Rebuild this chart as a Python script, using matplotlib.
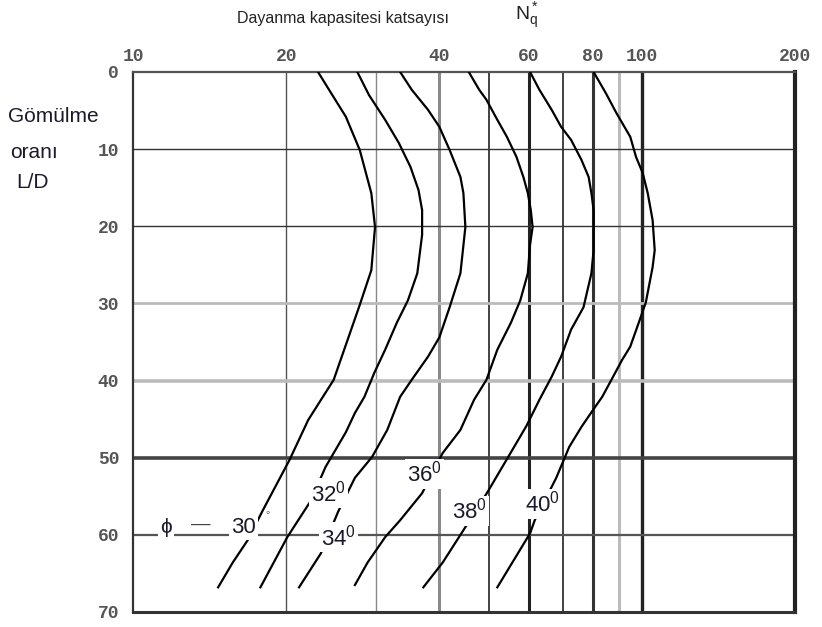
import numpy as np
import matplotlib
matplotlib.use("Agg")
import matplotlib.pyplot as plt

# --- dati (Nq* in funzione di L/D) ---
ld_30 = [0, 5.8, 10.1, 15.7, 20.1, 25.7, 30.2, 39.9, 45.1, 50.3, 56.8, 60.7, 63.6, 66.8]
nq_30 = [23.1, 26.2, 27.9, 29.4, 29.9, 29.4, 27.9, 24.8, 22.1, 20.3, 18.0, 16.8, 15.7, 14.7]

ld_32 = [0, 3.0, 6.2, 9.2, 12.3, 15.3, 17.9, 21.1, 26.1, 29.6, 32.5, 36.0, 39.0, 42.1,
         44.2, 46.7, 51.2, 55.7, 60.3, 66.8]
nq_32 = [27.6, 29.1, 31.3, 33.3, 35.1, 36.4, 37.0, 37.0, 36.2, 34.7, 33.0, 31.3, 29.8, 28.5,
         27.3, 26.2, 23.9, 22.3, 20.1, 17.8]

ld_34 = [0, 2.3, 4.9, 7.1, 10.1, 13.6, 15.7, 20.1, 26.1, 30.5, 34.4, 36.9, 39.9, 42.1,
         46.4, 49.9, 52.6, 57.0, 62.4, 66.8]
nq_34 = [33.5, 35.3, 38.0, 40.0, 41.9, 44.0, 44.6, 45.0, 44.0, 41.9, 40.0, 38.0, 35.3, 33.5,
         31.6, 29.5, 27.3, 25.3, 23.4, 21.2]

ld_36 = [0, 2.3, 3.6, 6.2, 8.4, 11.0, 13.6, 15.7, 17.9, 20.1, 22.4, 26.1, 29.6, 32.5,
         36.0, 39.9, 42.5, 46.4, 49.4, 54.6, 58.1, 60.3, 63.6, 66.5]
nq_36 = [45.7, 47.9, 49.5, 52.0, 54.3, 56.7, 58.5, 59.7, 60.5, 61.0, 60.3, 59.7, 57.7, 55.3,
         52.0, 49.5, 46.8, 44.0, 40.6, 37.0, 33.5, 31.3, 28.9, 27.3]

ld_38 = [0, 2.3, 4.9, 7.1, 8.8, 11.4, 13.6, 15.7, 17.9, 20.5, 23.1, 26.1, 30.5, 33.4,
         36.9, 39.5, 42.5, 45.9, 54.4, 59.4, 63.6, 66.8]
nq_38 = [60.3, 62.9, 66.5, 69.4, 72.6, 76.1, 78.6, 79.6, 80.4, 80.4, 80.4, 79.6, 76.8, 72.6,
         69.4, 66.5, 62.9, 59.3, 49.8, 44.6, 40.6, 37.2]

ld_40 = [0, 2.7, 5.3, 8.4, 11.0, 13.1, 15.7, 19.2, 23.1, 25.3, 29.9, 32.1, 35.6, 37.3,
         39.5, 42.1, 43.8, 46.0, 48.6, 52.6, 58.1, 59.8, 66.8]
nq_40 = [80.4, 84.9, 89.1, 94.9, 97.4, 100.4, 102.7, 105.0, 106.0, 105.0, 101.8, 99.1, 94.9, 91.5,
         87.8, 83.6, 80.2, 76.1, 72.0, 67.9, 61.6, 60.3, 52.0]

curve = [(nq_30, ld_30), (nq_32, ld_32), (nq_34, ld_34),
         (nq_36, ld_36), (nq_38, ld_38), (nq_40, ld_40)]

x_ticks = [10, 20, 40, 60, 80, 100, 200]
y_ticks = [0, 10, 20, 30, 40, 50, 60, 70]

# griglia verticale: (valore, colore, spessore)
vgrid = [(20, "#555555", 1.0), (30, "#888888", 1.0), (40, "#8a8a8a", 2.2),
         (50, "#222222", 1.2), (60, "#222222", 2.2), (70, "#333333", 1.3),
         (80, "#333333", 2.2), (90, "#bbbbbb", 2.2), (100, "#222222", 2.4)]
hgrid = [(10, "#333333", 1.0), (20, "#333333", 1.0), (30, "#bbbbbb", 2.0),
         (40, "#bbbbbb", 2.6), (50, "#444444", 2.6), (60, "#555555", 1.6)]

fig = plt.figure(figsize=(8.22, 6.27), dpi=100)
ax = fig.add_axes([133 / 822, 1 - 612 / 627, (795 - 133) / 822, (612 - 72) / 627])
ax.set_xscale("log")
ax.set_xlim(10, 200)
ax.set_ylim(70, 0)

for v, c, w in vgrid:
    ax.axvline(v, color=c, lw=w, zorder=1)
for v, c, w in hgrid:
    ax.axhline(v, color=c, lw=w, zorder=1)

for nq, ld in curve:
    ax.plot(nq, ld, color="black", lw=1.6, zorder=3)

# assi e tacche
ax.xaxis.tick_top()
ax.set_xticks(x_ticks)
ax.set_xticklabels([str(t) for t in x_ticks])
ax.xaxis.set_minor_locator(matplotlib.ticker.NullLocator())
ax.set_yticks(y_ticks)
ax.set_yticklabels([str(t) for t in y_ticks])
ax.tick_params(axis="x", length=0, labelsize=13, labelcolor="#555555", pad=5)
ax.tick_params(axis="y", length=0, labelsize=13, labelcolor="#555555", pad=10)
for lab in ax.get_xticklabels() + ax.get_yticklabels():
    lab.set_family("Liberation Mono")
    lab.set_weight("bold")

ax.spines["left"].set_color("#333333")
ax.spines["left"].set_linewidth(1.6)
ax.spines["top"].set_color("#555555")
ax.spines["top"].set_linewidth(1.6)
ax.spines["right"].set_color("#222222")
ax.spines["right"].set_linewidth(3.0)
ax.spines["bottom"].set_color("#333333")
ax.spines["bottom"].set_linewidth(2.2)

# etichette delle curve
box = dict(facecolor="white", edgecolor="none", pad=1.5)
lab_font = ["Liberation Sans", "DejaVu Sans"]
col_lab = "#1a1a2a"
ax.text(11.6, 59.0, "ϕ", fontsize=15, family=lab_font, color=col_lab,
        ha="center", va="center", bbox=box, zorder=5)
ax.text(13.6, 58.6, "—", fontsize=14, family=lab_font, color="#444444",
        ha="center", va="center", zorder=5)
ax.text(16.5, 59.0, "30", fontsize=16, family=lab_font, color=col_lab,
        ha="center", va="center", bbox=box, zorder=5)
ax.text(18.4, 57.5, "°", fontsize=8, family=lab_font, color="#666666",
        ha="center", va="center", zorder=5)
for txt, xx, yy in [("32", 24.2, 54.6), ("34", 25.3, 60.3), ("36", 37.4, 52.1),
                    ("38", 45.9, 56.9), ("40", 63.7, 56.0)]:
    ax.text(xx, yy, r"$\mathregular{" + txt + "^0}$", fontsize=16, family="Liberation Sans",
            color=col_lab, ha="center", va="center", bbox=box, zorder=5)

# titoli
fig.text(343 / 822, 1 - 18 / 627, "Dayanma kapasitesi katsayısı", fontsize=11.5,
         family=["Liberation Sans Narrow", "Liberation Sans"], color="#222222",
         ha="center", va="center")
fig.text(527 / 822, 1 - 16 / 627, r"$\mathregular{N_q^*}$", fontsize=14,
         family=["Liberation Sans Narrow", "Liberation Sans"], color="#222222",
         ha="center", va="center")
left_font = ["Liberation Sans", "DejaVu Sans"]
fig.text(8 / 822, 1 - 117 / 627, "Gömülme", fontsize=15, family=left_font,
         color="#1a1a2a", ha="left", va="center")
fig.text(10 / 822, 1 - 152 / 627, "oranı", fontsize=15, family=left_font,
         color="#1a1a2a", ha="left", va="center")
fig.text(16 / 822, 1 - 182 / 627, "L/D", fontsize=15, family=left_font,
         color="#1a1a2a", ha="left", va="center")

fig.savefig("out.png", dpi=100, facecolor="white")
